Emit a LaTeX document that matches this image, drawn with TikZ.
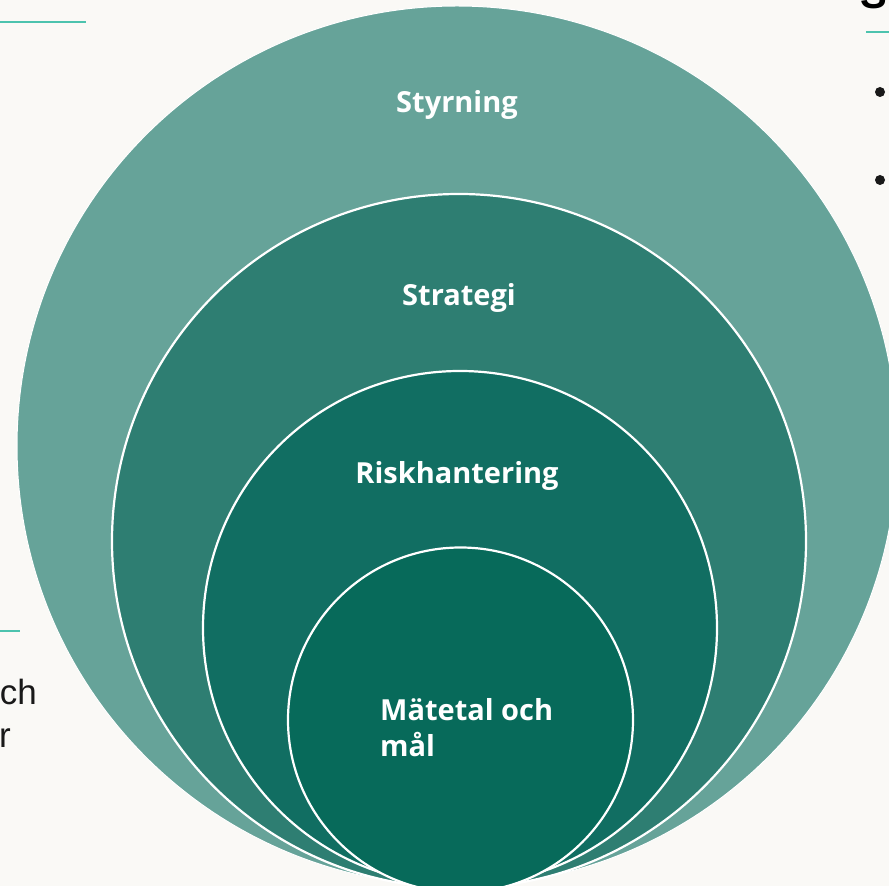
\documentclass[tikz,border=0pt]{standalone}
\usepackage{fontspec}
\setmainfont{Open Sans}
\newfontfamily\bodyfont{Liberation Sans}
\usetikzlibrary{positioning}

\definecolor{bgpaper}{HTML}{FAF9F6}
\definecolor{ringA}{HTML}{66A399}
\definecolor{ringB}{HTML}{2E7E72}
\definecolor{ringC}{HTML}{116E62}
\definecolor{ringD}{HTML}{076A5A}
\definecolor{rulecol}{HTML}{4CC3AE}

\tikzset{
  ring/.style={circle, draw=white, line width=2.2pt, inner sep=0pt},
  ringlabel/.style={text=white, font=\bfseries\fontsize{29}{36}\selectfont, inner sep=0pt},
  sidetext/.style={text=black!90, font=\bodyfont\fontsize{35}{40}\selectfont, inner sep=0pt},
  rule/.style={draw=rulecol, line width=1.8pt}
}

\begin{document}
\begin{tikzpicture}[x=1pt, y=1pt]
\useasboundingbox (0,0) rectangle (889,886);
\clip (0,0) rectangle (889,886);
\fill[bgpaper] (0,0) rectangle (889,886);

% nested rings
\node[ring, fill=ringA, minimum size=880pt, line width=1pt] (styrning) at (457,440) {};
\node[ring, fill=ringB, minimum size=694pt] (strategi) at (459,345) {};
\node[ring, fill=ringC, minimum size=514pt] (risk) at (460,258) {};
\node[ring, fill=ringD, minimum size=345pt] (matetal) at (460.5,166) {};

% ring labels
\node[ringlabel] (lblA) at (457,781) {Styrning};
\node[ringlabel] (lblB) at (459,588) {Strategi};
\node[ringlabel] (lblC) at (457,410) {Riskhantering};
\node[ringlabel, align=left, anchor=west] (lblD) at (380,158) {Mätetal och\\mål};

% cut-off page content around the rings
\coordinate (ruleAl) at (0,864);
\coordinate (ruleAr) at (86,864);
\draw[rule] (ruleAl) -- (ruleAr);
\coordinate (ruleBl) at (0,255);
\coordinate (ruleBr) at (20,255);
\draw[rule] (ruleBl) -- (ruleBr);
\coordinate (ruleCl) at (866,854);
\coordinate (ruleCr) at (889,854);
\draw[rule] (ruleCl) -- (ruleCr);

\node[sidetext, anchor=base east] (och) at (37,181) {ch};
\node[sidetext, anchor=base east] (rr) at (11,138) {r};
\node[sidetext, anchor=base west, text=black, font=\bodyfont\bfseries\fontsize{40}{44}\selectfont] (head) at (860,877) {S};

\fill[black!90] (880,794) circle (5);
\fill[black!90] (880,706) circle (5);
\end{tikzpicture}
\end{document}
